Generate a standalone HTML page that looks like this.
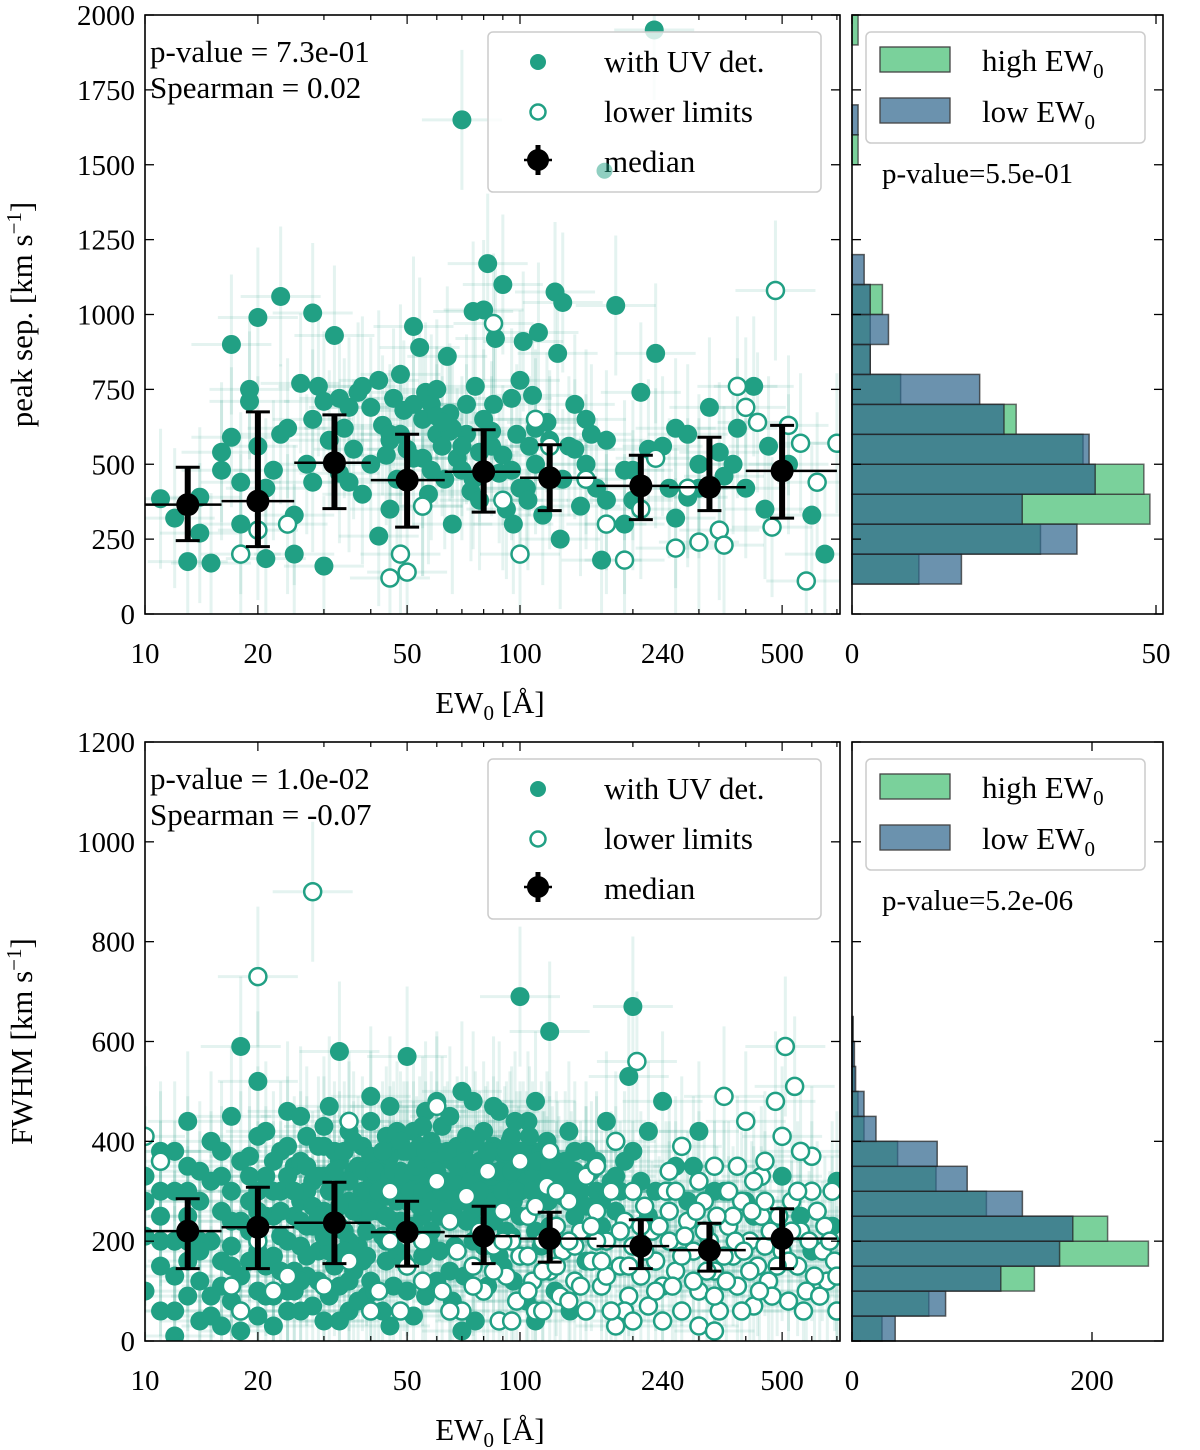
<!DOCTYPE html>
<html><head><meta charset="utf-8"><style>
html,body{margin:0;padding:0;background:#fff;}
svg{display:block;font-family:"Liberation Serif","DejaVu Serif",serif;}
</style></head><body>
<svg id="fig" width="1200" height="1450" viewBox="0 0 1200 1450" xmlns="http://www.w3.org/2000/svg"></svg>
<script>
// ---------- DATA ----------
const topDet = [[11,385],[12,320],[13,175],[14,270],[15,170],[16,480],[16,540],[17,590],[17,900],[18,440],[19,750],[19,710],[20,990],[20,560],[21,420],[21,185],[22,480],[23,1060],[23,600],[24,620],[25,200],[26,770],[27,500],[28,1005],[28,650],[29,760],[30,160],[30,710],[31,580],[32,930],[33,470],[33,720],[34,620],[35,690],[36,550],[37,740],[38,760],[38,400],[40,690],[40,500],[42,260],[42,780],[43,630],[45,580],[45,350],[46,720],[47,450],[48,800],[49,680],[50,550],[52,960],[52,520],[54,890],[55,650],[56,740],[57,400],[58,700],[60,600],[60,750],[62,560],[63,450],[64,860],[65,670],[66,300],[68,520],[70,1650],[70,480],[72,600],[74,410],[75,1010],[76,760],[78,380],[80,1015],[80,650],[82,1170],[84,560],[86,920],[88,470],[90,1100],[92,350],[95,720],[96,300],[98,600],[100,780],[102,910],[104,420],[106,560],[108,730],[110,500],[112,940],[115,330],[118,640],[120,450],[124,1075],[126,870],[128,250],[130,1040],[135,560],[140,700],[145,360],[150,500],[155,600],[160,420],[165,180],[170,580],[180,1030],[190,300],[200,480],[210,740],[220,550],[230,870],[228,1950],[250,420],[260,620],[280,390],[300,500],[320,690],[350,460],[380,620],[420,760],[450,350],[520,500],[600,330],[650,200],[55,520],[65,610],[75,450],[85,700],[95,480],[45,600],[35,440],[150,650],[120,580],[200,380],[60,660],[70,560],[58,480],[66,620],[90,530],[100,420],[44,530],[52,700],[78,540],[110,620],[130,450],[170,380],[240,560],[280,600],[340,540],[400,420],[25,330],[28,440],[18,300],[14,390],[62,640],[72,700],[84,610],[55,360],[48,600],[105,380],[140,550],[190,480],[260,320],[300,420],[370,500],[460,560]];
const topLim = [[18,200],[20,280],[24,300],[45,120],[48,200],[50,140],[55,360],[85,970],[100,200],[110,650],[150,450],[190,180],[210,350],[230,520],[300,240],[340,280],[380,760],[400,690],[430,640],[480,1080],[520,630],[560,570],[580,110],[620,440],[700,570],[260,220],[350,230],[470,290],[120,560],[90,380],[170,300],[280,420]];
const topFaded = [[168,1480]];
const botDet = [[10,210],[11,380],[11,150],[12,300],[12,60],[13,250],[13,350],[14,120],[14,280],[15,400],[15,200],[16,330],[16,30],[17,450],[17,240],[18,590],[18,130],[19,370],[19,280],[20,520],[20,180],[21,330],[21,420],[22,250],[22,90],[23,380],[23,300],[24,200],[24,460],[25,350],[25,140],[26,280],[27,410],[27,230],[28,320],[29,180],[30,390],[30,260],[31,470],[32,300],[32,150],[33,580],[33,360],[34,220],[35,420],[35,280],[36,340],[37,190],[38,390],[38,250],[40,310],[40,440],[42,260],[42,360],[44,200],[44,410],[46,300],[46,380],[48,240],[48,340],[50,570],[50,280],[52,380],[52,420],[54,320],[55,250],[56,460],[58,350],[58,400],[60,290],[62,430],[63,370],[65,300],[65,450],[68,390],[70,330],[72,410],[75,280],[75,480],[78,360],[80,420],[82,300],[85,390],[88,460],[90,330],[92,270],[95,410],[98,360],[100,690],[100,300],[105,440],[108,380],[110,480],[115,320],[118,400],[120,620],[125,360],[130,290],[135,420],[140,340],[150,380],[160,300],[170,440],[180,260],[190,360],[195,530],[200,670],[210,320],[220,420],[230,300],[240,480],[260,350],[280,280],[300,420],[350,300],[420,250],[500,330],[600,180],[700,320],[12,10],[15,90],[20,50],[28,70],[35,60],[45,30],[60,120],[70,20],[90,150],[110,40],[150,160],[25,100],[30,40],[40,120],
[11,250],[12,200],[13,160],[14,340],[16,260],[17,190],[18,360],[19,220],[20,300],[21,150],[22,360],[23,210],[24,330],[25,250],[26,190],[26,360],[27,300],[28,230],[29,390],[30,330],[31,220],[32,380],[33,270],[34,320],[35,200],[36,260],[37,350],[38,300],[39,220],[40,370],[41,280],[43,330],[44,290],[45,370],[46,240],[47,420],[48,300],[49,380],[50,330],[51,230],[53,290],[54,390],[56,340],[57,280],[59,310],[60,380],[61,250],[63,320],[64,280],[66,360],[67,250],[69,310],[71,380],[73,340],[74,250],[76,400],[77,320],[79,270],[81,370],[83,340],[84,260],[86,320],[87,380],[89,290],[91,370],[93,320],[94,400],[96,280],[97,440],[99,330],[102,380],[104,320],[106,410],[109,340],[112,300],[114,380],[116,350],[119,280],[122,330],[127,310],[132,360],[137,320],[145,300],[155,340],[165,280],[175,320],[185,300],[20,100],[17,80],[14,40],[24,60],[33,110],[38,160],[50,100],[55,170],[65,140],[80,190],[44,160],[27,130],[31,180],[36,140],[58,220],[75,200],[95,210],[120,230],[140,250],[13,440],[20,410],[26,450],[40,490],[45,470],[55,430],[60,480],[70,500],[85,470],[30,430],
[10,330],[11,300],[12,380],[13,300],[14,200],[15,320],[16,380],[17,300],[18,240],[19,330],[20,260],[21,250],[22,300],[23,260],[24,390],[25,300],[26,240],[27,350],[28,270],[29,330],[30,210],[31,300],[32,340],[33,230],[34,380],[35,320],[36,400],[37,270],[38,340],[39,300],[40,260],[41,340],[42,300],[43,380],[44,250],[45,330],[46,340],[47,280],[48,400],[49,330],[50,380],[51,300],[52,340],[53,350],[54,270],[55,300],[56,380],[57,330],[58,280],[59,360],[60,340],[62,300],[64,380],[66,320],[68,350],[70,280],[72,360],[74,320],[76,350],[78,300],[80,340],[82,380],[84,330],[86,280],[88,340],[90,300],[92,380],[95,340],[98,300],[100,380],[104,360],[108,300],[112,360],[116,320],[120,350],[126,340],[133,290],[140,380],[150,330],[160,360],[170,300],[22,170],[26,120],[29,250],[34,180],[39,90],[43,210],[47,180],[52,230],[57,200],[62,260],[67,190],[72,240],[78,230],[85,240],[92,220],[100,250],[110,220],[16,160],[13,200],[10,280],[11,200],
[10,100],[11,60],[12,130],[13,90],[14,180],[15,50],[16,110],[17,150],[18,20],[19,160],[21,90],[22,30],[23,140],[24,100],[26,60],[27,170],[29,120],[31,90],[33,40],[35,120],[37,80],[39,170],[41,100],[43,60],[46,110],[49,160],[52,50],[56,90],[61,180],[66,80],[71,130],[76,40],[82,110],[88,170],[96,120],[104,80],[114,190],[124,100],[136,60],[150,270],[165,230],[180,330],[200,380],[220,250],[250,300],[290,350],[330,300],[400,280],[560,250],[680,230]];
const botLim = [[10,410],[11,360],[20,730],[28,900],[17,110],[22,100],[35,440],[42,100],[45,200],[48,60],[50,150],[55,200],[60,470],[62,100],[65,240],[68,180],[70,60],[72,290],[75,150],[78,220],[80,100],[82,340],[85,190],[88,40],[90,260],[92,130],[95,200],[98,80],[100,170],[105,250],[108,120],[110,60],[115,200],[118,310],[120,140],[125,230],[128,90],[130,180],[135,280],[140,120],[145,220],[150,60],[155,160],[160,260],[165,110],[170,200],[175,300],[180,30],[185,150],[190,240],[195,90],[200,190],[205,560],[210,130],[215,270],[220,70],[225,220],[230,160],[240,110],[245,300],[250,200],[260,140],[270,60],[280,240],[290,180],[300,100],[310,280],[320,200],[330,140],[340,60],[350,490],[360,230],[370,170],[380,110],[390,280],[400,440],[410,200],[420,70],[430,150],[440,250],[460,120],[480,480],[500,180],[510,590],[520,80],[530,280],[540,510],[550,150],[560,220],[580,100],[600,370],[620,260],[640,180],[660,120],[680,300],[700,60],[270,390],[330,350],[150,330],[120,380],[100,360],[180,400],[60,320],[45,300],[500,410],[440,330],
[160,200],[170,130],[190,60],[210,230],[230,100],[250,260],[270,170],[290,120],[310,220],[330,90],[350,170],[370,250],[390,60],[410,140],[450,190],[470,90],[490,250],[520,160],[570,60],[610,130],[650,230],[690,160],[200,40],[240,40],[300,30],[140,190],[125,300],[110,270],[90,200],[105,100],[115,140],[135,80],[250,340],[300,320],[380,350],[450,280],[600,300],[560,380],[330,20],[420,320],
[20,200],[18,60],[24,130],[30,110],[35,160],[40,60],[55,120],[65,60],[75,110],[85,140],[95,40],[105,170],[115,60],[125,150],[135,200],[145,110],[155,230],[165,160],[175,60],[185,220],[195,150],[215,180],[235,230],[255,110],[275,210],[295,260],[315,140],[335,250],[355,120],[375,200],[395,180],[415,260],[435,100],[465,220],[485,150],[530,220],[590,200],[630,90],[670,200],[700,130],[550,300],[450,360],[360,300],[260,300],[200,300],[160,350]];
const topMedX = [13,20,32,50,80,120,210,320,500];
const topMedY = [365,377,505,447,475,455,428,423,478];
const topMedLo = [245,225,352,290,340,345,315,345,320];
const topMedHi = [490,675,665,600,615,565,530,590,630];
const botMedX = [13,20,32,50,80,120,210,320,500];
const botMedY = [220,228,237,218,210,205,190,182,205];
const botMedLo = [145,145,155,150,155,158,145,140,145];
const botMedHi = [285,308,318,280,270,258,243,236,265];
const medEdges = [10,16,25,40,63,100,160,250,400,700];
const topHistBinStart = [100,200,300,400,500,600,700,800,900,1000,1100,1500,1600,1900];
const topHigh = [11,31,49,48,38,27,8,3,3,5,0,1,0,1];
const topLow  = [18,37,28,40,39,25,21,3,6,3,2,0,1,0];
const botBinStart = [0,50,100,150,200,250,300,350,400,450,500,550,600];
const botHigh = [25,64,152,247,213,112,70,38,10,5,2,1,0];
const botLow  = [36,78,124,173,184,142,96,71,20,10,3,2,1];
const xTickVals = [10,20,50,100,240,500];
const topYTicks = [0,250,500,750,1000,1250,1500,1750,2000];
const botYTicks = [0,200,400,600,800,1000,1200];

// ---------- helpers ----------
const NS="http://www.w3.org/2000/svg";
const svg=document.getElementById('fig');
function el(tag,attrs,parent){const e=document.createElementNS(NS,tag);for(const k in attrs)e.setAttribute(k,attrs[k]);(parent||svg).appendChild(e);return e;}
const TEAL="#21a084";
const X0=145,X1=840;
function xs(v){return X0+(Math.log10(v)-1)*375;}
function panel(yTop,yBot,yMax,det,lim,faded,medX,medY,medLo,medHi,yTicks,ylabel,pv,sp,name){
  const ys=v=>yBot-(v/yMax)*(yBot-yTop);
  const g=el('g',{});
  
  
  const cp=el('clipPath',{id:'clip'+name},g);
  el('rect',{x:X0,y:yTop,width:X1-X0,height:yBot-yTop},cp);
  const plot=el('g',{'clip-path':'url(#clip'+name+')'},g);
  const eb=el('g',{stroke:TEAL,'stroke-opacity':0.12,'stroke-width':3},plot);
  
  
  det.concat(lim).forEach(p=>{
    const x=xs(p[0]),y=ys(p[1]);
    el('line',{x1:x,x2:x,y1:y-70,y2:y+70},eb);
    el('line',{x1:x-40,x2:x+40,y1:y,y2:y},eb);
  });
  det.forEach(p=>{const c=el('circle',{cx:xs(p[0]),cy:ys(p[1]),r:9.5,fill:TEAL},plot);
    });
  lim.forEach(p=>{const c=el('circle',{cx:xs(p[0]),cy:ys(p[1]),r:8.5,fill:'#fff',stroke:TEAL,'stroke-width':2.5},plot);
    });
  medX.forEach((m,i)=>{
    const mg=el('g',{},plot);
    
    
    const x=xs(m),y=ys(medY[i]);
    el('line',{x1:xs(medEdges[i]),x2:xs(medEdges[i+1]),y1:y,y2:y,stroke:'#000','stroke-width':2.5},mg);
    el('line',{x1:x,x2:x,y1:ys(medLo[i]),y2:ys(medHi[i]),stroke:'#000','stroke-width':6},mg);
    el('line',{x1:x-12,x2:x+12,y1:ys(medLo[i]),y2:ys(medLo[i]),stroke:'#000','stroke-width':3},mg);
    el('line',{x1:x-12,x2:x+12,y1:ys(medHi[i]),y2:ys(medHi[i]),stroke:'#000','stroke-width':3},mg);
    el('circle',{cx:x,cy:y,r:11.5,fill:'#000'},mg);
  });
  el('rect',{x:X0,y:yTop,width:X1-X0,height:yBot-yTop,fill:'none',stroke:'#000','stroke-width':1.6},g);
  yTicks.forEach(t=>{const y=ys(t);
    el('line',{x1:X0,x2:X0+9,y1:y,y2:y,stroke:'#000','stroke-width':1.3},g);
    el('line',{x1:X1-9,x2:X1,y1:y,y2:y,stroke:'#000','stroke-width':1.3},g);
    const tx=el('text',{x:X0-10,y:y+10,'text-anchor':'end','font-size':29},g);tx.textContent=t;
    
  });
  for(let d=10;d<=700;d*=10){for(let k=1;k<10;k++){const v=d*k;if(v<10||v>713)continue;const x=xs(v);
    const major=xTickVals.indexOf(v)>=0;const L=major?9:5;
    el('line',{x1:x,x2:x,y1:yBot,y2:yBot-L,stroke:'#000','stroke-width':1.2},g);
    el('line',{x1:x,x2:x,y1:yTop,y2:yTop+L,stroke:'#000','stroke-width':1.2},g);}}
  xTickVals.forEach(v=>{const t=el('text',{x:xs(v),y:yBot+49,'text-anchor':'middle','font-size':29},g);t.textContent=v;
    });
  const xl=el('text',{x:490,y:yBot+99,'text-anchor':'middle','font-size':31},g);
  xl.innerHTML='EW<tspan font-size="21" dy="7">0</tspan><tspan dy="-7"> [Å]</tspan>';
  
  const yl=el('text',{x:0,y:0,'text-anchor':'middle','font-size':31,transform:'translate(32,'+((yTop+yBot)/2)+') rotate(-90)'},g);
  yl.innerHTML=ylabel+' [km s<tspan font-size="21" dy="-11">−1</tspan><tspan dy="11">]</tspan>';
  
  const s1=el('text',{x:150,y:yTop+47,'font-size':31},g);s1.textContent='p-value = '+pv;
  
  const s2=el('text',{x:150,y:yTop+83,'font-size':31},g);s2.textContent='Spearman = '+sp;
  
  const lg=el('g',{},g);
  
  el('rect',{x:488,y:yTop+17,width:333,height:160,rx:5,fill:'#fff','fill-opacity':0.8,stroke:'#ccc','stroke-width':1.5},lg);
  el('circle',{cx:538,cy:yTop+47,r:8,fill:TEAL},lg);
  el('circle',{cx:538,cy:yTop+97,r:7.5,fill:'#fff',stroke:TEAL,'stroke-width':2.5},lg);
  el('line',{x1:538,x2:538,y1:yTop+130,y2:yTop+160,stroke:'#000','stroke-width':5},lg);
  el('line',{x1:524,x2:552,y1:yTop+145,y2:yTop+145,stroke:'#000','stroke-width':2.5},lg);
  el('circle',{cx:538,cy:yTop+145,r:11,fill:'#000'},lg);
  [['with UV det.',57],['lower limits',107],['median',157]].forEach(a=>{const t=el('text',{x:604,y:yTop+a[1],'font-size':31},lg);t.textContent=a[0];
    });
  faded.forEach(p=>{const c=el('circle',{cx:xs(p[0]),cy:ys(p[1]),r:8,fill:TEAL,'fill-opacity':0.5},g);
    });
}
function hist(yTop,yBot,yMax,binStart,binW,high,low,pxPerCount,xTicks,yTicks,pv,name){
  const H0=852,H1=1163;
  const ys=v=>yBot-(v/yMax)*(yBot-yTop);
  const xsH=v=>H0+v*pxPerCount;
  const g=el('g',{});
  
  binStart.forEach((b,i)=>{
    if(high[i]>0){const r=el('rect',{x:H0,y:ys(b+binW),width:xsH(high[i])-H0,height:ys(b)-ys(b+binW),fill:'#7ad19b',stroke:'#333','stroke-opacity':0.7,'stroke-width':1.5},g);
      }
  });
  binStart.forEach((b,i)=>{
    if(low[i]>0){const r=el('rect',{x:H0,y:ys(b+binW),width:xsH(low[i])-H0,height:ys(b)-ys(b+binW),fill:'#2c648c','fill-opacity':0.7,stroke:'#222','stroke-opacity':0.7,'stroke-width':1.5},g);
      }
  });
  el('rect',{x:H0,y:yTop,width:H1-H0,height:yBot-yTop,fill:'none',stroke:'#000','stroke-width':1.6},g);
  yTicks.forEach(t=>{const y=ys(t);
    el('line',{x1:H0,x2:H0+9,y1:y,y2:y,stroke:'#000','stroke-width':1.3},g);
    el('line',{x1:H1-9,x2:H1,y1:y,y2:y,stroke:'#000','stroke-width':1.3},g);});
  xTicks.forEach(v=>{const x=xsH(v);
    el('line',{x1:x,x2:x,y1:yBot,y2:yBot-9,stroke:'#000','stroke-width':1.3},g);
    el('line',{x1:x,x2:x,y1:yTop,y2:yTop+9,stroke:'#000','stroke-width':1.3},g);
    const t=el('text',{x:x,y:yBot+49,'text-anchor':'middle','font-size':29},g);t.textContent=v;
    });
  const lg=el('g',{},g);
  
  el('rect',{x:866,y:yTop+17,width:279,height:111,rx:5,fill:'#fff','fill-opacity':0.8,stroke:'#ccc','stroke-width':1.5},lg);
  el('rect',{x:880,y:yTop+32,width:70,height:25,fill:'#7ad19b',stroke:'#444','stroke-width':1.3},lg);
  el('rect',{x:880,y:yTop+83,width:70,height:25,fill:'#2c648c','fill-opacity':0.7,stroke:'#444','stroke-width':1.3},lg);
  const t1=el('text',{x:982,y:yTop+56,'font-size':31},lg);t1.innerHTML='high EW<tspan font-size="21" dy="7">0</tspan>';
  
  const t2=el('text',{x:982,y:yTop+107,'font-size':31},lg);t2.innerHTML='low EW<tspan font-size="21" dy="7">0</tspan>';
  
  const p=el('text',{x:882,y:yTop+168,'font-size':29},g);p.textContent='p-value='+pv;
  
}
panel(15,614,2000,topDet,topLim,topFaded,topMedX,topMedY,topMedLo,topMedHi,topYTicks,'peak sep.','7.3e-01','0.02','top');
hist(15,614,2000,topHistBinStart,100,topHigh,topLow,6.08,[0,50],topYTicks,'5.5e-01','top');
panel(742,1341,1200,botDet,botLim,[],botMedX,botMedY,botMedLo,botMedHi,botYTicks,'FWHM','1.0e-02','-0.07','bottom');
hist(742,1341,1200,botBinStart,50,botHigh,botLow,1.2,[0,200],botYTicks,'5.2e-06','bottom');
</script>
</body></html>
